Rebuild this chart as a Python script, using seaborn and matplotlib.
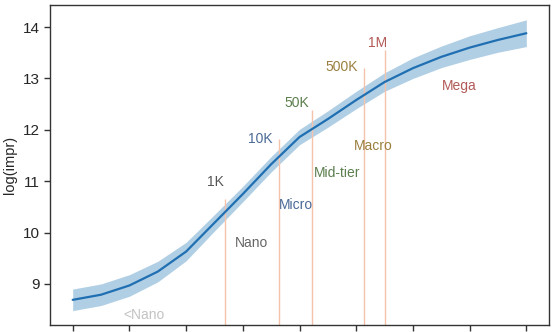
import matplotlib
matplotlib.use("Agg")
import matplotlib.pyplot as plt
import seaborn as sns
import pandas as pd

# Smoothed fit of log(impressions) against follower scale
x_pos = [0.0, 0.5, 1.0, 1.5, 2.0, 2.5, 3.0, 3.5, 4.0, 4.5, 5.0, 5.5, 6.0, 6.5, 7.0, 7.5, 8.0]
log_impr = [8.69, 8.79, 8.97, 9.24, 9.63, 10.19, 10.75, 11.33, 11.86, 12.21, 12.58,
            12.93, 13.20, 13.42, 13.60, 13.75, 13.88]
ci_half = [0.21, 0.21, 0.21, 0.20, 0.18, 0.16, 0.15, 0.15, 0.15, 0.16, 0.17,
           0.18, 0.20, 0.21, 0.23, 0.24, 0.26]

# Follower thresholds: position on the x scale and height of the marker line
thr_labels = ["1K", "10K", "50K", "500K", "1M"]
thr_x = [2.684, 3.632, 4.228, 5.14, 5.51]
thr_top = [10.65, 11.82, 12.39, 13.20, 13.55]
thr_label_x = [2.51, 3.30, 3.96, 4.74, 5.37]
thr_label_y = [10.98, 11.82, 12.52, 13.22, 13.69]
thr_colors = ["#555555", "#4a6a96", "#5b7f4d", "#9a7f3f", "#b25a57"]

# Influencer tiers
tier_labels = ["<Nano", "Nano", "Micro", "Mid-tier", "Macro", "Mega"]
tier_x = [1.25, 3.16, 3.93, 4.67, 5.30, 6.82]
tier_y = [8.40, 9.80, 10.54, 11.16, 11.68, 12.85]
tier_colors = ["#c3c3c3", "#666666", "#4a6a96", "#5b7f4d", "#9a7f3f", "#b25a57"]

sns.set_style("ticks")
plt.rcParams["font.family"] = ["Liberation Sans", "DejaVu Sans"]

fig = plt.figure(figsize=(5.52, 3.32), dpi=100)
ax = fig.add_axes([0.0906, 0.021, 0.904, 0.964])

df = pd.DataFrame({"x": x_pos, "y": log_impr, "h": ci_half})
ax.fill_between(df["x"], df["y"] - df["h"], df["y"] + df["h"],
                color="#1f77b4", alpha=0.35, linewidth=0)
sns.lineplot(data=df, x="x", y="y", ax=ax, color="#1f6fb2", linewidth=1.6)

ax.set_ylim(8.2, 14.43)
ax.set_xlim(-0.4, 8.4)
ybot = ax.get_ylim()[0]

for xv, top in zip(thr_x, thr_top):
    ax.vlines(xv, ybot, top, color="#f5c2ab", linewidth=1.0, zorder=1)

for lab, xv, yv, c in zip(thr_labels, thr_label_x, thr_label_y, thr_colors):
    ax.text(xv, yv, lab, color=c, fontsize=10, ha="center", va="center")

for lab, xv, yv, c in zip(tier_labels, tier_x, tier_y, tier_colors):
    ax.text(xv, yv, lab, color=c, fontsize=10, ha="center", va="center")

ax.set_xticks(range(0, 9))
ax.set_xticklabels([""] * 9)
ax.set_yticks([9, 10, 11, 12, 13, 14])
ax.tick_params(axis="both", length=4, width=1, color="#333333", labelsize=11)
ax.set_xlabel("")
ax.set_ylabel("log(impr)", fontsize=10.5)

for s in ax.spines.values():
    s.set_visible(True)
    s.set_color("#333333")
    s.set_linewidth(1.0)

fig.savefig("out.png", dpi=100)
